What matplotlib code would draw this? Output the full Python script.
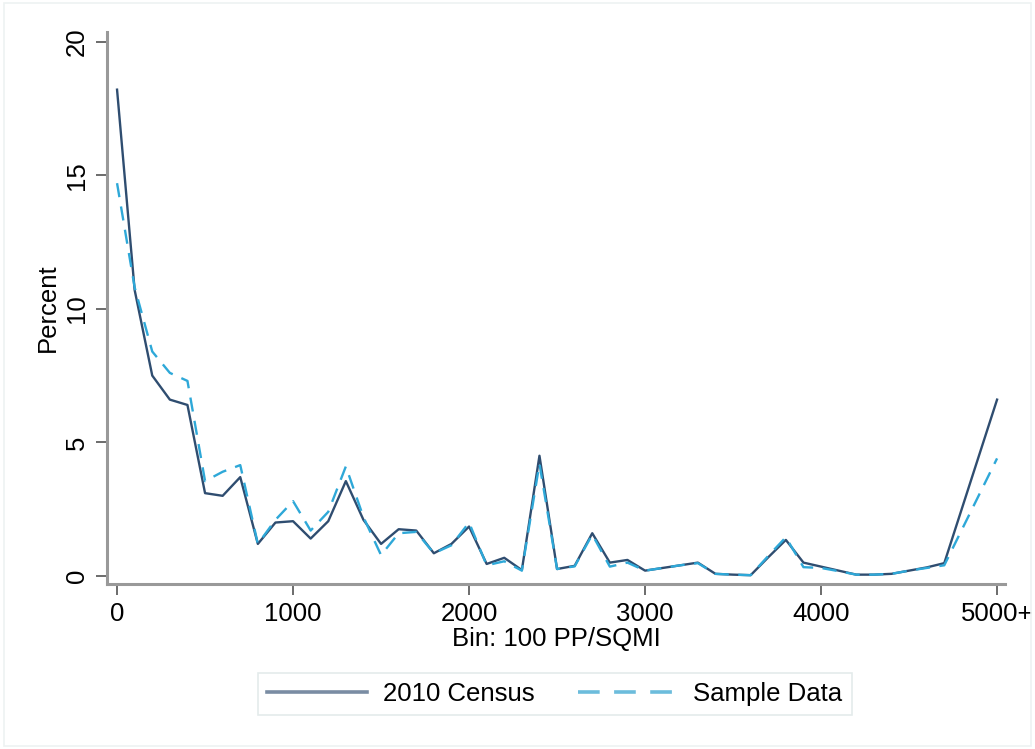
import matplotlib
matplotlib.use("Agg")
import matplotlib.pyplot as plt
from matplotlib.patches import Rectangle

plt.rcParams['font.family'] = ['Liberation Sans', 'DejaVu Sans']

# density bins (people per square mile), last bin is open ended
bins = [0, 100, 200, 300, 400, 500, 600, 700, 800, 900,
        1000, 1100, 1200, 1300, 1400, 1500, 1600, 1700, 1800, 1900,
        2000, 2100, 2200, 2300, 2400, 2500, 2600, 2700, 2800, 2900,
        3000, 3100, 3200, 3300, 3400, 3500, 3600, 3700, 3800, 3900,
        4000, 4100, 4200, 4300, 4400, 4500, 4600, 4700, 5000]

census = [18.2, 10.7, 7.5, 6.6, 6.4, 3.1, 3.0, 3.7, 1.2, 2.0,
          2.05, 1.4, 2.05, 3.55, 2.1, 1.2, 1.75, 1.7, 0.85, 1.2,
          1.85, 0.45, 0.68, 0.22, 4.5, 0.26, 0.38, 1.6, 0.5, 0.6,
          0.2, 0.3, 0.4, 0.5, 0.08, 0.05, 0.03, 0.7, 1.35, 0.5,
          0.35, 0.2, 0.05, 0.05, 0.08, 0.2, 0.32, 0.48, 6.6]

sample = [14.7, 10.8, 8.4, 7.6, 7.3, 3.55, 3.9, 4.15, 1.2, 2.1,
          2.8, 1.7, 2.4, 4.1, 2.2, 0.78, 1.6, 1.65, 0.85, 1.15,
          2.0, 0.4, 0.55, 0.2, 4.2, 0.26, 0.36, 1.55, 0.35, 0.5,
          0.2, 0.3, 0.4, 0.48, 0.08, 0.05, 0.03, 0.75, 1.45, 0.33,
          0.3, 0.18, 0.05, 0.05, 0.08, 0.2, 0.3, 0.4, 4.4]

xticks = [0, 1000, 2000, 3000, 4000, 5000]
xtick_labels = ['0', '1000', '2000', '3000', '4000', '5000+']
yticks = [0, 5, 10, 15, 20]

fs = 18.5

fig = plt.figure(figsize=(10.35, 7.49), dpi=100)
ax = fig.add_axes([0.1034, 0.2203, 0.8676, 0.7367])

ax.plot(bins, census, color='#2f4d70', lw=1.7, label='2010 Census')
ax.plot(bins, sample, color='#2ea8d8', lw=1.7, dashes=(6, 4), label='Sample Data')

ax.set_xlim(-57, 5045)
ax.set_ylim(-0.3, 20.35)

ax.set_xticks(xticks)
ax.set_xticklabels(xtick_labels)
ax.set_yticks(yticks)
ax.set_yticklabels([str(v) for v in yticks], rotation=90, va='center')
ax.tick_params(axis='both', labelsize=fs, length=8, width=1.1, color='#444444')
ax.tick_params(axis='y', pad=5)
ax.tick_params(axis='x', pad=5)

for side in ['top', 'right']:
    ax.spines[side].set_visible(False)
for side in ['left', 'bottom']:
    ax.spines[side].set_color('#999999')
    ax.spines[side].set_linewidth(2.2)

ax.set_xlabel('Bin: 100 PP/SQMI', fontsize=fs, labelpad=0.5)
ax.set_ylabel('Percent', fontsize=fs, labelpad=4)

leg = fig.legend(loc='center', bbox_to_anchor=(0.536, 0.073), ncol=2,
                 fontsize=fs, frameon=True, fancybox=False,
                 handlelength=3.9, handletextpad=0.6, columnspacing=1.7,
                 borderpad=0.35, borderaxespad=0)
leg.get_frame().set_edgecolor('#dde6e6')
leg.get_frame().set_linewidth(1.2)
leg.get_lines()[0].set_color('#7a8ca3')
leg.get_lines()[0].set_linewidth(2.6)
leg.get_lines()[1].set_color('#6cbcdc')
leg.get_lines()[1].set_linewidth(2.6)

# faint outer frame of the graph region
fig.add_artist(Rectangle((0.004, 0.004), 0.992, 0.992, transform=fig.transFigure,
                         fill=False, edgecolor='#eef2f2', lw=1.2))

fig.savefig('out.png', dpi=100)
